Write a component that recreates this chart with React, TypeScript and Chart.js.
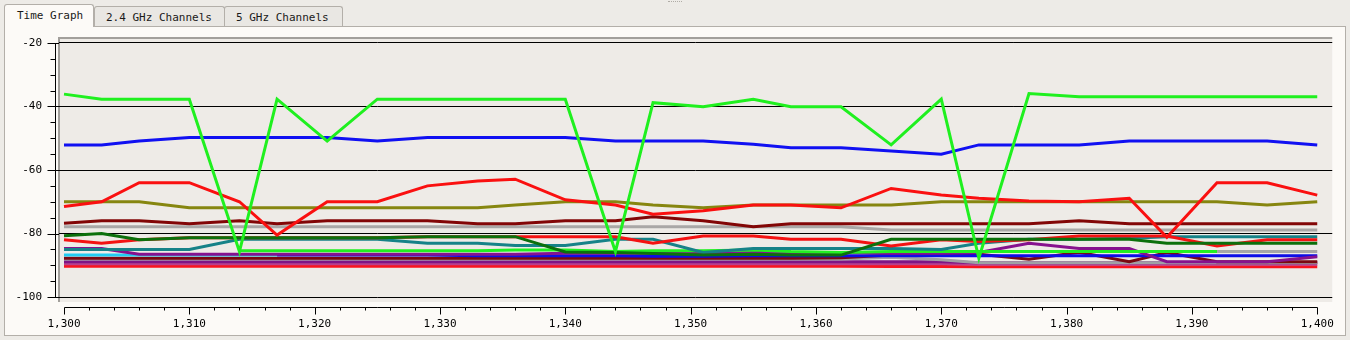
import React, { useEffect, useRef } from "react";
import { Chart, registerables } from "chart.js";

Chart.register(...registerables);

// ---- data ----
const times = [1300, 1303, 1306, 1310, 1314, 1317, 1321, 1325, 1329, 1333, 1336, 1340, 1344, 1347, 1351, 1355, 1358, 1362, 1366, 1370, 1373, 1377, 1381, 1385, 1388, 1392, 1396, 1400];

const limeMain = [-36.1, -37.7, -37.7, -37.7, -85.7, -37.7, -50.9, -37.7, -37.7, -37.7, -37.7, -37.7, -85.7, -38.8, -40.1, -37.7, -40.1, -40.1, -52.1, -37.7, -87.8, -35.9, -36.9, -36.9, -36.9, -36.9, -36.9, -36.9];
const blueMain = [-52.1, -52.1, -50.9, -49.8, -49.8, -49.8, -49.8, -50.9, -49.8, -49.8, -49.8, -49.8, -50.9, -50.9, -50.9, -51.9, -53, -53, -54, -55, -52.1, -52.1, -52.1, -50.9, -50.9, -50.9, -50.9, -52.1];
const redMain = [-71.5, -70, -64, -64, -70, -80.5, -70, -70, -65, -63.5, -62.9, -69.4, -71, -73.9, -72.8, -71, -71, -71.9, -65.8, -67.9, -68.9, -69.8, -70, -68.9, -81.2, -64, -64, -67.9];
const olive = [-70, -70, -70, -71.9, -71.9, -71.9, -71.9, -71.9, -71.9, -71.9, -71, -70, -70, -71, -71.9, -71, -71, -71, -71, -70, -70, -70, -70, -70, -70, -70, -71, -70];
const maroonHigh = [-76.8, -76, -76, -76.9, -76, -76.9, -76, -76, -76, -76.9, -76.9, -76, -76, -74.7, -76, -77.9, -76.9, -76.9, -76.9, -76.9, -76.9, -76.9, -76, -76.9, -76.9, -76.9, -76.9, -76.9];
const grayHigh = [-77.9, -77.9, -77.9, -77.9, -77.9, -77.9, -77.9, -77.9, -77.9, -77.9, -77.9, -77.9, -77.9, -77.9, -77.9, -77.9, -77.9, -77.9, -78.9, -78.9, -78.9, -78.9, -78.9, -78.9, -78.9, -78.9, -78.9, -78.9];
const darkGreen = [-80.7, -80, -82, -81.3, -81.3, -81.3, -81.3, -81.3, -81, -81, -81, -85.8, -86, -86.3, -86.8, -86.5, -86.8, -86.8, -81.8, -81.8, -81.8, -81.8, -81.8, -81.8, -83.1, -83.1, -83.1, -83.1];
const redLow = [-82, -83.1, -82, -81.3, -81.3, -81.3, -81.3, -81.3, -81, -81, -81, -81, -81, -83.1, -80.8, -80.8, -81.8, -81.8, -83.9, -82, -82.5, -82, -80.8, -80.8, -80.8, -83.9, -82, -82];
const teal = [-85, -85, -85, -85, -81.8, -81.8, -81.8, -81.8, -83.1, -83.1, -83.8, -83.8, -81.8, -81.8, -86, -84.7, -84.7, -84.7, -84.7, -85, -83.1, -81.8, -81.8, -81.5, -81, -81, -81, -81];
const limeLow = [null, null, null, null, -85.4, -85.4, -85.4, -85.4, -85.4, -85.4, -85.2, -85.2, -85.7, -85.4, -85.4, -85.2, -85.7, -86, -85.7, -85.7, -85.7, -85.7, -85.7, -85.7, -85.7, -85.7, null, null];
const purpleMid = [-84.7, -84.7, -86.5, -86.5, -86.5, -86.5, -86.5, -86.5, -86.5, -86.5, -86.5, -86.2, -86.2, -86.2, -86.2, -86, -86, -86, -86.2, -86.2, -86, -83.1, -84.7, -84.7, -88.9, -88.9, -88.9, -87.3];
const cyan = [-86.8, -86.8, -86.8, -86.8, -86.8, -86.8, null, null, null, null, null, null, null, null, null, null, null, null, null, null, null, null, null, null, null, null, null, null];
const blueLow = [null, null, null, null, null, -86.8, -86.8, -86.8, -86.8, -87, -87, -87, -87, -87.2, -87.2, -87, -87, -87, -87, -87, -87, -87, -87, -87, -87, -87, -87, -87];
const maroonLow = [-87.8, -87.8, -87.8, -87.8, -87.8, -87.8, -87.8, -87.8, -87.8, -87.8, -87.8, -87.8, -87.8, -87.8, -87.8, -87.8, -87.8, -87.6, -86.8, -86.8, -86.5, -88.1, -85.9, -88.9, -86, -88.9, -88.9, -88.9];
const grayRight = [null, null, null, null, null, null, null, null, null, null, null, null, null, null, null, null, null, null, null, null, null, null, null, null, null, -85.7, -85.7, -85.7];
const grayLow = [-88, -88, -88, -88, -88, -88, -88, -88, -88, -88, -88, -88, -88, -88, -88, -88, -88, -88, -87.5, -88.3, -89.2, -89.2, -89.2, -89.2, -89.2, -89.2, -89.2, -89.2];
const purpleLow = [-88.9, -88.9, -88.9, -88.9, -88.9, -88.9, -88.9, -88.9, -88.9, -88.9, -88.9, -88.9, -88.9, -88.9, -88.9, -88.9, -88.9, -88.9, -88.9, -88.9, -89.2, -89.2, -89.2, -89.2, -89.2, -89.2, -89.2, -89.2];
const magenta = [-89.5, -89.5, -89.5, -89.5, -89.5, -89.5, -89.5, -89.5, -89.5, -89.5, -89.5, -89.5, -89.5, -89.5, -89.5, -89.5, -89.5, -89.5, -89.5, -89.5, -89.7, -89.7, -89.7, -89.7, -89.7, -89.7, -89.7, -89.7];
const redLowest = [-90.3, -90.3, -90.3, -90.3, -90.3, -90.3, -90.3, -90.3, -90.3, -90.3, -90.3, -90.3, -90.3, -90.3, -90.3, -90.3, -90.3, -90.3, -90.4, -90.4, -90.5, -90.5, -90.5, -90.5, -90.5, -90.5, -90.5, -90.5];

// first listed is drawn on top
const seriesList = [
  { name: "limeMain", values: limeMain, color: "#1ff01f" },
  { name: "blueMain", values: blueMain, color: "#1010f2" },
  { name: "redMain", values: redMain, color: "#fa1010" },
  { name: "olive", values: olive, color: "#868610" },
  { name: "maroonHigh", values: maroonHigh, color: "#820606" },
  { name: "grayHigh", values: grayHigh, color: "#a9a7a6" },
  { name: "darkGreen", values: darkGreen, color: "#0c700c" },
  { name: "redLow", values: redLow, color: "#f41212" },
  { name: "teal", values: teal, color: "#168288" },
  { name: "limeLow", values: limeLow, color: "#22f022" },
  { name: "purpleMid", values: purpleMid, color: "#86128e" },
  { name: "cyan", values: cyan, color: "#22ccf2" },
  { name: "blueLow", values: blueLow, color: "#0c0ce8" },
  { name: "maroonLow", values: maroonLow, color: "#7a0810" },
  { name: "grayRight", values: grayRight, color: "#a6a6a6" },
  { name: "grayLow", values: grayLow, color: "#a0a0a4" },
  { name: "purpleLow", values: purpleLow, color: "#7e1486" },
  { name: "magenta", values: magenta, color: "#b8408e" },
  { name: "redLowest", values: redLowest, color: "#f81420" },
];

const yTicks = [-100, -80, -60, -40, -20];
const yMinorStep = 5;
const xTicks = [1300, 1310, 1320, 1330, 1340, 1350, 1360, 1370, 1380, 1390, 1400];
const xMinorStep = 2;

const FONT = "'DejaVu Sans Mono', monospace";
const PLOT_BG = "#eeebe7";
const PANEL_BG = "#fcfaf7";
const PAGE_BG = "#edebe7";
const BORDER = "#b3afa9";

const decorPlugin = {
  id: "decor",
  beforeDraw(chart: any) {
    const { ctx, chartArea: a } = chart;
    ctx.save();
    ctx.fillStyle = PLOT_BG;
    ctx.fillRect(a.left, a.top, a.right - a.left, a.bottom - a.top);
    ctx.fillStyle = "#a29f9b";
    ctx.fillRect(a.left - 1, a.top - 1, a.right - a.left + 1, 2);
    ctx.fillRect(a.left - 1, a.top - 1, 2, a.bottom - a.top + 1);
    ctx.restore();
  },
  afterDraw(chart: any) {
    const { ctx, chartArea: a } = chart;
    const xs = chart.scales.x;
    const ys = chart.scales.y;
    ctx.save();
    ctx.strokeStyle = "#000";
    ctx.lineWidth = 1;
    // y axis line
    const ax = Math.round(a.left - 4) + 0.5;
    const yTop = Math.round(ys.getPixelForValue(yTicks[yTicks.length - 1])) + 0.5;
    const yBot = Math.round(ys.getPixelForValue(yTicks[0])) + 0.5;
    ctx.beginPath();
    ctx.moveTo(ax, yTop);
    ctx.lineTo(ax, yBot);
    for (let v = yTicks[0]; v <= yTicks[yTicks.length - 1]; v += yMinorStep) {
      const py = Math.round(ys.getPixelForValue(v)) + 0.5;
      const major = yTicks.includes(v);
      ctx.moveTo(major ? ax - 8 : ax - 5, py);
      ctx.lineTo(major ? a.left : ax, py);
    }
    // x axis line
    const ay = Math.round(a.bottom + 5) + 0.5;
    const xL = Math.round(xs.getPixelForValue(xTicks[0])) + 0.5;
    const xR = Math.round(xs.getPixelForValue(xTicks[xTicks.length - 1])) + 0.5;
    ctx.moveTo(xL, ay);
    ctx.lineTo(xR, ay);
    for (let v = xTicks[0]; v <= xTicks[xTicks.length - 1]; v += xMinorStep) {
      const px = Math.round(xs.getPixelForValue(v)) + 0.5;
      const major = xTicks.includes(v);
      ctx.moveTo(px, ay);
      ctx.lineTo(px, ay + (major ? 7 : 3));
    }
    ctx.stroke();
    ctx.restore();
  },
};

function TimeGraph() {
  const ref = useRef<HTMLCanvasElement | null>(null);
  useEffect(() => {
    if (!ref.current) return;
    const xPad = [5 / 12.54, 15 / 12.54];
    const yPad = 5 / 3.175;
    const chart = new Chart(ref.current, {
      type: "line",
      data: {
        datasets: seriesList.map((s) => ({
          label: s.name,
          data: times.map((t, i) => ({ x: t, y: s.values[i] })),
          borderColor: s.color,
          backgroundColor: s.color,
          borderWidth: 3,
          pointRadius: 0,
          tension: 0,
          fill: false,
          spanGaps: false,
        })),
      },
      options: {
        animation: false,
        responsive: false,
        devicePixelRatio: 1,
        layout: { padding: { left: 0, top: 38, right: 17, bottom: 0 } },
        plugins: { legend: { display: false }, tooltip: { enabled: false } },
        scales: {
          x: {
            type: "linear",
            min: xTicks[0] - xPad[0],
            max: xTicks[xTicks.length - 1] + xPad[1],
            afterBuildTicks: (s: any) => {
              s.ticks = xTicks.map((v) => ({ value: v }));
            },
            afterFit: (s: any) => {
              s.height = 38;
            },
            grid: { display: false, drawTicks: false },
            border: { display: false },
            ticks: {
              autoSkip: false,
              maxRotation: 0,
              padding: 16,
              color: "#000",
              font: { family: FONT, size: 11 },
            },
          },
          y: {
            type: "linear",
            min: yTicks[0] - yPad,
            max: yTicks[yTicks.length - 1] + yPad,
            afterBuildTicks: (s: any) => {
              s.ticks = yTicks.map((v) => ({ value: v }));
            },
            afterFit: (s: any) => {
              s.width = 59;
            },
            grid: { color: "#000", lineWidth: 1, drawTicks: false },
            border: { display: false },
            ticks: {
              padding: 17,
              color: "#000",
              font: { family: FONT, size: 11 },
            },
          },
        },
      },
      plugins: [decorPlugin],
    } as any);
    return () => chart.destroy();
  }, []);
  return (
    <canvas
      ref={ref}
      width={1350}
      height={340}
      style={{ position: "absolute", left: 0, top: 0, width: 1350, height: 340, zIndex: 3 }}
    />
  );
}

const tabBase: React.CSSProperties = {
  position: "absolute",
  boxSizing: "border-box",
  border: `1px solid ${BORDER}`,
  borderBottom: "none",
  borderRadius: "3px 3px 0 0",
  fontFamily: FONT,
  fontSize: 11,
  color: "#1a1a1a",
  whiteSpace: "nowrap",
};

export default function App() {
  useEffect(() => {
    document.body.style.margin = "0";
  }, []);
  return (
    <div
      style={{
        position: "fixed",
        left: 0,
        top: 0,
        width: 1350,
        height: 340,
        background: PAGE_BG,
        overflow: "hidden",
      }}
    >
      <div
        style={{
          position: "absolute",
          left: 668,
          top: 1,
          width: 14,
          height: 0,
          borderTop: "1px dotted #b0aca6",
        }}
      />
      <div
        style={{
          position: "absolute",
          left: 4,
          top: 26,
          width: 1342,
          height: 310,
          boxSizing: "border-box",
          border: `1px solid ${BORDER}`,
          background: PANEL_BG,
          zIndex: 1,
        }}
      />
      <div
        style={{
          ...tabBase,
          left: 4,
          top: 4,
          width: 90,
          height: 23,
          background: PANEL_BG,
          paddingLeft: 12,
          lineHeight: "22px",
          zIndex: 2,
        }}
      >
        Time Graph
      </div>
      <div
        style={{
          ...tabBase,
          left: 94,
          top: 6,
          width: 131,
          height: 21,
          background: "#e9e7e3",
          paddingLeft: 11,
          lineHeight: "21px",
          zIndex: 0,
        }}
      >
        2.4 GHz Channels
      </div>
      <div
        style={{
          ...tabBase,
          left: 224,
          top: 6,
          width: 119,
          height: 21,
          background: "#e9e7e3",
          paddingLeft: 11,
          lineHeight: "21px",
          zIndex: 0,
        }}
      >
        5 GHz Channels
      </div>
      <TimeGraph />
    </div>
  );
}
